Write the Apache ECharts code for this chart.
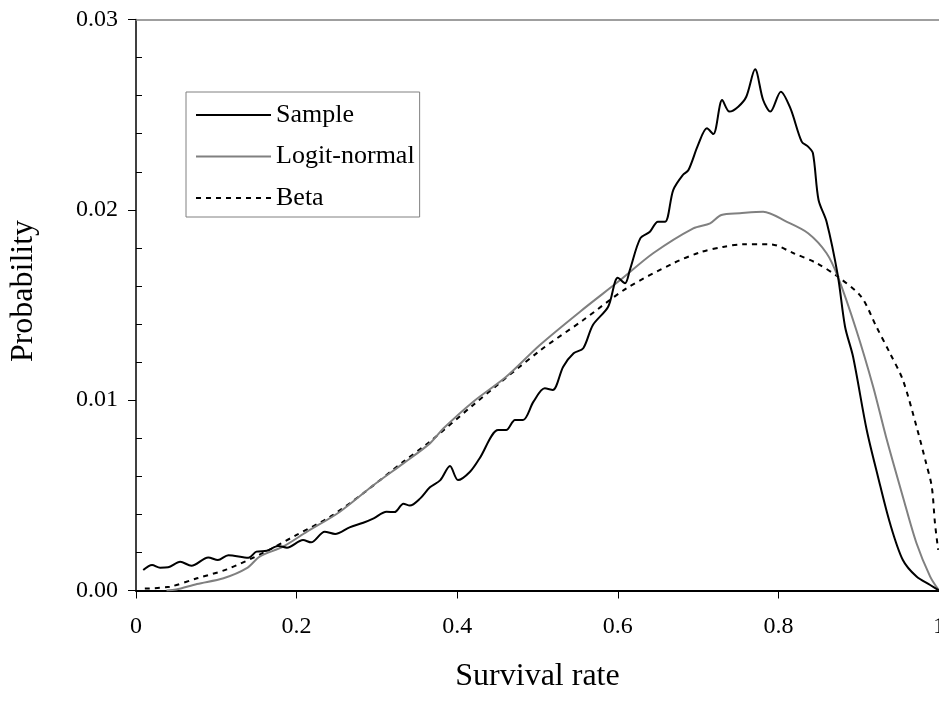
<!DOCTYPE html>
<html lang="en">
<head>
    <meta charset="UTF-8">
    <title>Survival rate distribution</title>
    <style type="text/css">
        *{ margin: 0; padding: 0; }
        #main{ width: 939px; height: 710px; background: #fff; }
    </style>
</head>
<body>
    <div id="main"></div>
    <script src="https://cdn.jsdelivr.net/npm/echarts@6/dist/echarts.min.js"></script>
    <script type="text/javascript">
        var seriesNames = ['Sample', 'Logit-normal', 'Beta'];

        // Sample (noisy empirical curve)
        var sampleX = [0.009, 0.02, 0.03, 0.04, 0.055, 0.069, 0.09, 0.102, 0.115, 0.14, 0.15, 0.163, 0.177, 0.188,
            0.208, 0.218, 0.235, 0.248, 0.266, 0.283, 0.296, 0.312, 0.322, 0.333, 0.341, 0.354, 0.366, 0.379,
            0.391, 0.401, 0.416, 0.428, 0.451, 0.461, 0.472, 0.482, 0.495, 0.509, 0.519, 0.532, 0.545, 0.557,
            0.569, 0.588, 0.6, 0.609, 0.615, 0.628, 0.64, 0.65, 0.659, 0.669, 0.681, 0.688, 0.7, 0.711, 0.719,
            0.73, 0.739, 0.75, 0.76, 0.771, 0.781, 0.79, 0.803, 0.815, 0.829, 0.837, 0.843, 0.85, 0.86, 0.874,
            0.883, 0.893, 0.91, 0.924, 0.939, 0.955, 0.972, 0.989, 1.0];
        var sampleY = [0.00108, 0.00134, 0.0012, 0.00122, 0.00151, 0.0013, 0.00174, 0.0016, 0.00185, 0.00172, 0.00204, 0.00209, 0.00234, 0.00225,
            0.00265, 0.00253, 0.00309, 0.00297, 0.00332, 0.00356, 0.00379, 0.00414, 0.00412, 0.00456, 0.00446, 0.00484, 0.00542, 0.0058,
            0.00654, 0.0058, 0.00624, 0.00695, 0.00843, 0.00843, 0.00896, 0.00896, 0.00992, 0.01062, 0.01053, 0.01176, 0.01246, 0.01273,
            0.01395, 0.01491, 0.01643, 0.01614, 0.01684, 0.0185, 0.01885, 0.01938, 0.01938, 0.02104, 0.02183, 0.02209, 0.02341, 0.02428, 0.02398,
            0.02577, 0.02516, 0.02542, 0.02594, 0.02738, 0.02577, 0.02516, 0.02621, 0.02533, 0.02358, 0.02332, 0.02297, 0.02052, 0.01938, 0.01655,
            0.01386, 0.01228, 0.00843, 0.00598, 0.00353, 0.0016, 0.00073, 0.00029, 0.0];

        // Logit-normal fit
        var logitX = [0.038, 0.05, 0.076, 0.109, 0.138, 0.154, 0.183, 0.213, 0.254, 0.296, 0.333, 0.366, 0.383, 0.42,
            0.461, 0.503, 0.553, 0.603, 0.644, 0.694, 0.715, 0.729, 0.752, 0.781, 0.81, 0.837, 0.86, 0.874,
            0.897, 0.918, 0.934, 0.955, 0.972, 0.989, 1.0];
        var logitY = [0.0, 0.00005, 0.00034, 0.00064, 0.00117, 0.00178, 0.0023, 0.00309, 0.00414, 0.00554, 0.00668, 0.00773, 0.00852, 0.00992,
            0.01123, 0.0129, 0.01465, 0.01631, 0.01772, 0.01903, 0.01929, 0.01973, 0.01982, 0.0199, 0.01938, 0.01877, 0.01772, 0.01649,
            0.01369, 0.01071, 0.00808, 0.00493, 0.00248, 0.00073, 0.0];

        // Beta fit
        var betaX = [0.011, 0.042, 0.076, 0.113, 0.159, 0.2, 0.242, 0.283, 0.333, 0.366, 0.42, 0.503, 0.557, 0.611,
            0.669, 0.702, 0.731, 0.756, 0.79, 0.819, 0.848, 0.874, 0.903, 0.922, 0.939, 0.955, 0.972, 0.984,
            0.991, 0.995, 0.999];
        var betaY = [0.0001, 0.0002, 0.00064, 0.00111, 0.00199, 0.00292, 0.00388, 0.00511, 0.00677, 0.00782, 0.00975, 0.0126, 0.01421, 0.01588,
            0.01719, 0.01776, 0.01805, 0.01819, 0.01819, 0.01772, 0.01719, 0.01649, 0.01544, 0.01386, 0.01246, 0.01106, 0.00861, 0.00668,
            0.00545, 0.00353, 0.00213];

        function pairs(xs, ys) {
            return xs.map(function (x, i) { return [x, ys[i]]; });
        }

        var font = 'Liberation Serif';
        var myChart = echarts.init(document.getElementById('main'));

        var option = {
            backgroundColor: '#fff',
            animation: false,
            grid: { left: 136, right: 0, top: 19.5, bottom: 119.5, containLabel: false, outerBoundsMode: 'none' },
            legend: {
                orient: 'vertical',
                left: 186,
                top: 92,
                padding: [10, 5, 6, 9],
                itemGap: 15.5,
                itemWidth: 75,
                itemHeight: 14,
                borderColor: '#808080',
                borderWidth: 1,
                itemStyle: { opacity: 0 },
                data: seriesNames,
                textStyle: { fontFamily: font, fontSize: 26, color: '#000', lineHeight: 26 }
            },
            xAxis: [{
                type: 'value',
                min: 0, max: 1, interval: 0.2,
                name: 'Survival rate',
                nameLocation: 'middle',
                nameGap: 70,
                nameTextStyle: { fontFamily: font, fontSize: 32, color: '#000' },
                axisLine: { lineStyle: { color: '#000', width: 2 } },
                axisTick: { length: 8, lineStyle: { color: '#000' } },
                axisLabel: {
                    margin: 24, fontFamily: font, fontSize: 24, color: '#000',
                    formatter: function (v) { return (v === 0 || v === 1) ? String(v) : v.toFixed(1); }
                },
                splitLine: { show: false }
            }, {
                type: 'value',
                position: 'top',
                min: 0, max: 1,
                axisLine: { show: true, lineStyle: { color: '#808080', width: 1.5 } },
                axisTick: { show: false },
                axisLabel: { show: false },
                splitLine: { show: false }
            }],
            yAxis: {
                type: 'value',
                min: 0, max: 0.03, interval: 0.01,
                name: 'Probability',
                nameLocation: 'middle',
                nameGap: 96,
                nameTextStyle: { fontFamily: font, fontSize: 32, color: '#000', padding: [0, 0, 0, 28] },
                axisLine: { show: true, lineStyle: { color: '#000', width: 1.5 } },
                axisTick: { show: true, length: 8, lineStyle: { color: '#000' } },
                minorTick: { show: true, splitNumber: 5, length: -6, lineStyle: { color: '#000' } },
                axisLabel: {
                    margin: 18, fontFamily: font, fontSize: 24, color: '#000',
                    formatter: function (v) { return v.toFixed(2); }
                },
                splitLine: { show: false }
            },
            series: [{
                name: seriesNames[0],
                type: 'line',
                data: pairs(sampleX, sampleY),
                showSymbol: false, symbol: 'none',
                smooth: 0.3,
                lineStyle: { color: '#000', width: 2 },
                itemStyle: { color: '#000' },
                z: 4
            }, {
                name: seriesNames[1],
                type: 'line',
                data: pairs(logitX, logitY),
                showSymbol: false, symbol: 'none',
                smooth: 0.3,
                lineStyle: { color: '#808080', width: 2 },
                itemStyle: { color: '#808080' },
                z: 3
            }, {
                name: seriesNames[2],
                type: 'line',
                data: pairs(betaX, betaY),
                showSymbol: false, symbol: 'none',
                smooth: 0.3,
                lineStyle: { color: '#000', width: 2, type: [5, 5] },
                itemStyle: { color: '#000' },
                z: 2
            }]
        };

        myChart.setOption(option);
    </script>
</body>
</html>
